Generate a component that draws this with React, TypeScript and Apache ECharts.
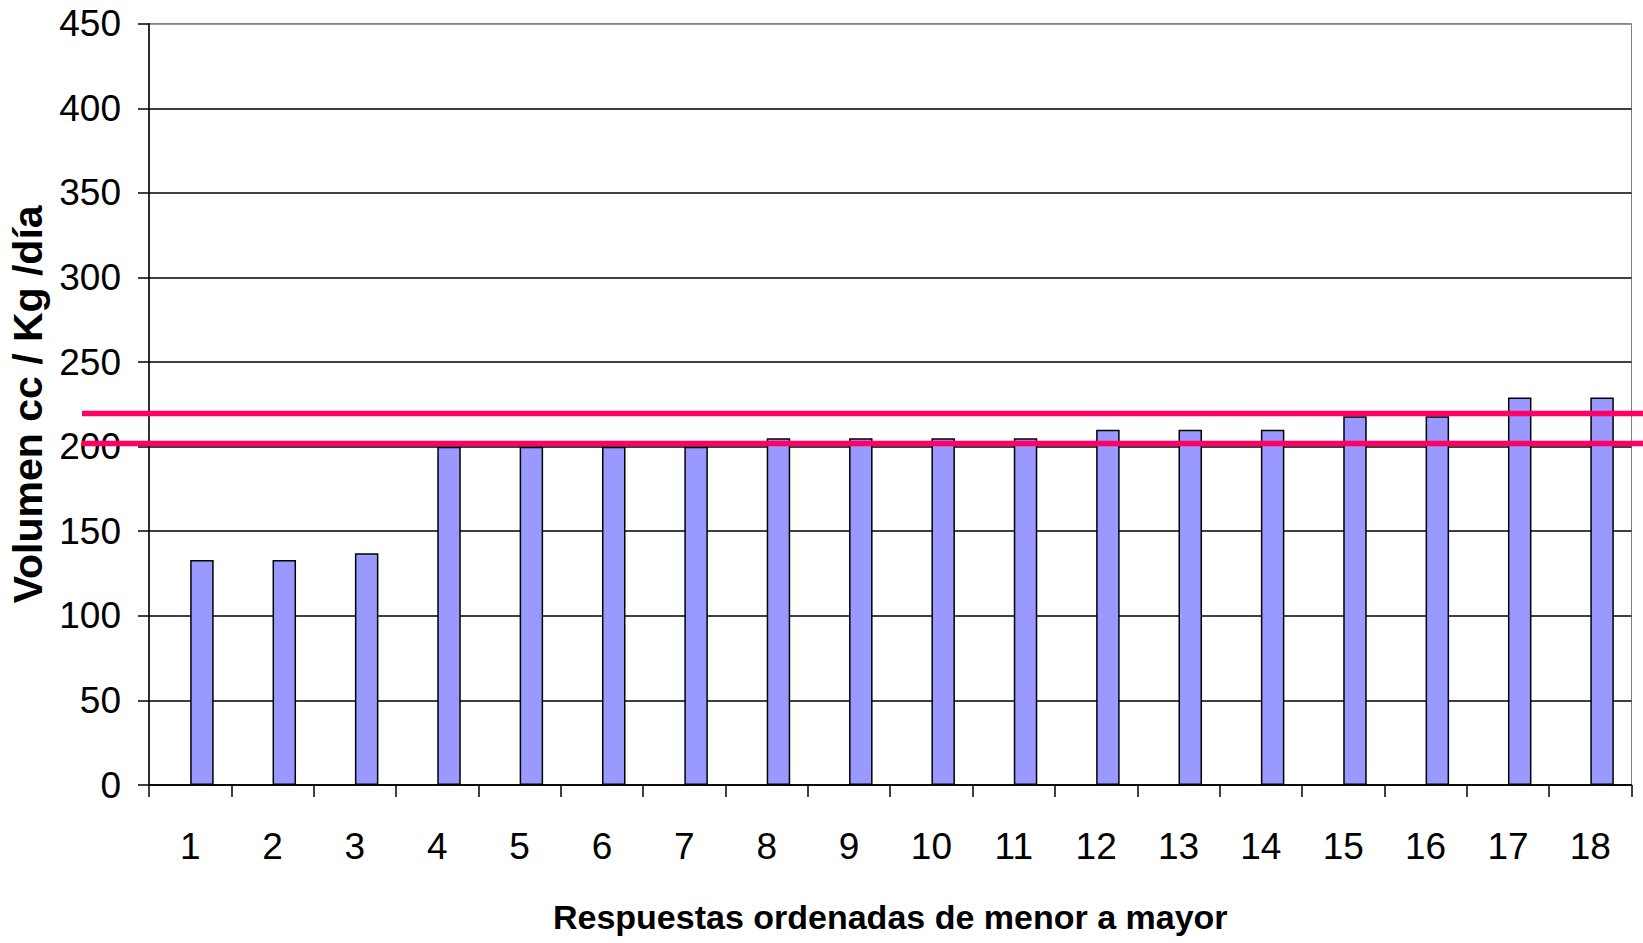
import React, { useEffect, useRef } from "react";
import * as echarts from "echarts";

const categories = ["1","2","3","4","5","6","7","8","9","10","11","12","13","14","15","16","17","18"];
const volumen = [133, 133, 137, 200, 200, 200, 200, 205, 205, 205, 205, 210, 210, 210, 218, 218, 229, 229];
const placeholder = categories.map(() => null);
const limitLines = [220, 202];
const yMin = 0;
const yMax = 450;
const yStep = 50;

export default function App() {
  const ref = useRef<HTMLDivElement>(null);
  useEffect(() => {
    if (!ref.current) return;
    const chart = echarts.init(ref.current, null, { renderer: "svg" });
    const narrow = "'Liberation Sans Narrow', 'Arial Narrow', 'Liberation Sans', Arial, sans-serif";
    const splitColors: string[] = [];
    for (let v = yMin; v <= yMax; v += yStep) splitColors.push(v === yMax ? "#808080" : "#000000");
    chart.setOption({
      animation: false,
      backgroundColor: "#ffffff",
      grid: {
        left: 149,
        right: 11.5,
        top: 23.7,
        bottom: 158,
        outerBoundsMode: "none",
        containLabel: false,
        show: true,
        borderColor: "#808080",
        borderWidth: 1,
        backgroundColor: "transparent",
      },
      xAxis: {
        type: "category",
        data: categories,
        boundaryGap: true,
        axisLine: { show: true, lineStyle: { color: "#000", width: 1.5 } },
        axisTick: { show: true, length: 12, lineStyle: { color: "#000", width: 1.5 } },
        axisLabel: { fontFamily: narrow, fontSize: 37, color: "#000", margin: 43 },
        name: "Respuestas ordenadas de menor a mayor",
        nameLocation: "middle",
        nameGap: 115,
        nameTextStyle: { fontFamily: narrow, fontWeight: "bold", fontSize: 34, color: "#000" },
      },
      yAxis: {
        type: "value",
        min: yMin,
        max: yMax,
        interval: yStep,
        axisLine: { show: true, lineStyle: { color: "#000", width: 1.5 } },
        axisTick: { show: true, length: 11, lineStyle: { color: "#000", width: 1.5 } },
        axisLabel: { fontFamily: narrow, fontSize: 37, color: "#000", margin: 28 },
        splitLine: { show: true, lineStyle: { color: splitColors, width: 1.5 } },
        name: "Volumen cc / Kg /día",
        nameLocation: "middle",
        nameGap: 99,
        nameRotate: 90,
        nameTextStyle: { fontFamily: "'Liberation Sans', Arial, sans-serif", fontWeight: "bold", fontSize: 41, color: "#000" },
      },
      series: [
        {
          type: "bar",
          name: "",
          data: placeholder,
          barWidth: 23.5,
          barGap: "0%",
          itemStyle: { color: "#9999FF" },
        },
        {
          type: "bar",
          name: "Volumen",
          data: volumen,
          barWidth: 23.5,
          barGap: "0%",
          clip: false,
          itemStyle: { color: "#9999FF", borderColor: "#000", borderWidth: 1.5 },
          markLine: {
            silent: true,
            symbol: ["none", "none"],
            label: { show: false },
            z: 10,
            lineStyle: { color: "#FF0066", width: 5.3, type: "solid" },
            data: limitLines.map((v) => [
              { yAxis: v, x: 82 },
              { yAxis: v, x: 1643 },
            ]),
          },
        },
      ],
    });
    return () => chart.dispose();
  }, []);
  return (
    <div
      ref={ref}
      style={{ position: "fixed", left: 0, top: 0, width: 1643, height: 943, background: "#fff" }}
    />
  );
}
